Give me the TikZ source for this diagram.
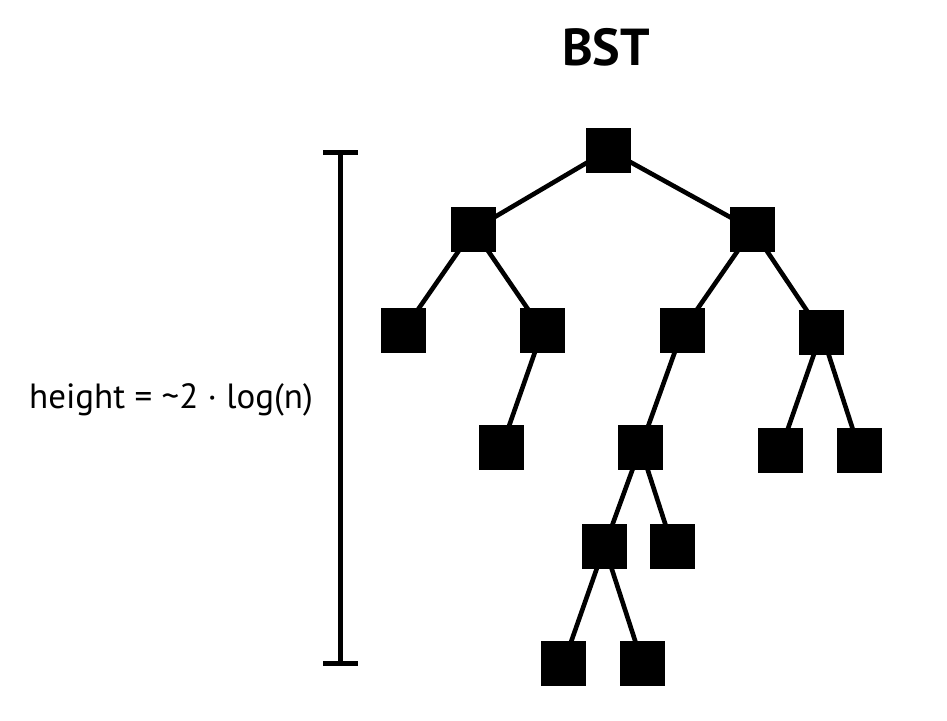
\documentclass[tikz,border=0pt]{standalone}
\usepackage{fontspec}
\setmainfont{PT Sans}
\usepackage{tikz}
\usetikzlibrary{arrows,positioning}
\tikzset{
    %Define style for boxes
    knot/.style={
           rectangle,
           fill=black,
           draw=none,
           inner sep=0pt,
           minimum size=45pt},
    % Define line style
    ast/.style={
           line width=4.6pt,
           shorten <=-4pt,
           shorten >=-4pt},
    bar/.style={
           line width=5pt}
}
\begin{document}
\begin{tikzpicture}[x=1pt,y=-1pt]
\useasboundingbox (0,0) rectangle (947,720);
\node[font=\fontsize{52}{60}\selectfont\bfseries, anchor=base](title) at (606,65){BST};
% tree
\node[knot](1) at (608.5,150){};
\node[knot](2) at (473.5,229.5){};
\node[knot](3) at (752.5,229.5){};
\node[knot](4) at (403.5,330.5){};
\node[knot](5) at (542.5,330.5){};
\node[knot](6) at (682.5,330.5){};
\node[knot](7) at (821.5,332.5){};
\node[knot](8) at (501.5,447.5){};
\node[knot](9) at (640.5,447.5){};
\node[knot](10) at (780.5,450){};
\node[knot](11) at (859.5,450){};
\node[knot](12) at (604.5,546.5){};
\node[knot](13) at (672.5,546.5){};
\node[knot](14) at (563.5,663.5){};
\node[knot](15) at (642.5,663.5){};
 \path[ast]
    (1) edge (2) edge (3)
    (2) edge (4) edge (5)
    (3) edge (6) edge (7)
    (5) edge (8)
    (6) edge (9)
    (7) edge (10) edge (11)
    (9) edge (12) edge (13)
    (12) edge (14) edge (15);
% height bar
\coordinate (top) at (340.5,152.5);
\coordinate (bot) at (340.5,663.5);
\draw[bar] (top) -- (bot);
\draw[bar] ([xshift=-17.5pt]top) -- ([xshift=17.5pt]top);
\draw[bar] ([xshift=-17.5pt]bot) -- ([xshift=17.5pt]bot);
\node[font=\fontsize{35}{42}\selectfont, anchor=base](h) at (171,408){height = \textasciitilde2 · log(n)};
\end{tikzpicture}
\end{document}
